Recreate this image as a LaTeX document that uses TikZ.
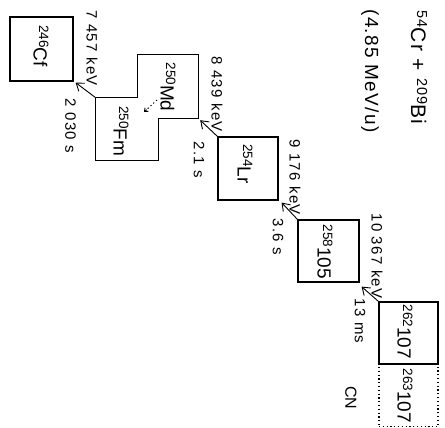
\documentclass[tikz,border=0pt]{standalone}
\usepackage{fontspec}
\setmainfont{Liberation Sans}
\usetikzlibrary{arrows.meta,calc}
\newcommand{\iso}[2]{\raisebox{5.5pt}{\fontsize{13.5}{13.5}\selectfont #1}#2}
\newcommand{\lbl}{\fontsize{15}{15}\selectfont\addfontfeatures{LetterSpace=9}}
\begin{document}
\begin{tikzpicture}[x=1pt,y=-1pt,
  box/.style={draw, line width=1.2pt, inner sep=0pt},
  nuc/.style={rotate=-90, inner sep=0pt, font=\fontsize{19}{19}\selectfont},
  val/.style={rotate=-90, inner sep=0pt, font=\lbl},
  arr/.style={line width=0.9pt, -{Straight Barb[length=7pt,width=10pt]}}]
\useasboundingbox (0,0) rectangle (445,428);
% boxes
\node[box, minimum width=63pt, minimum height=64pt] (cf) at (41.5,49) {};
\node[minimum width=60pt, minimum height=63pt, inner sep=0pt] (md) at (168,86.5) {};
\node[minimum width=62pt, minimum height=62pt, inner sep=0pt] (fm) at (127,129) {};
\node[box, minimum width=60pt, minimum height=63pt] (lr) at (248,168.5) {};
\node[box, minimum width=61pt, minimum height=62pt] (db) at (328.5,251) {};
\node[box, minimum width=59pt, minimum height=62pt] (bh) at (408.5,333) {};
\node[draw, line width=1.2pt, dash pattern=on 1.2pt off 2.6pt, inner sep=0pt,
      minimum width=59pt, minimum height=62pt] (bhcn) at (408.5,395.5) {};
% staircase outline of Md / Fm
\draw[line width=1.2pt] (md.north west) -- (md.north east) -- (md.south east)
  -- (fm.east |- md.south) -- (fm.south east) -- (fm.south west)
  -- (fm.north west) -- (md.west |- fm.north) -- cycle;
% box labels
\node[nuc] (tcf) at (41,46) {\iso{246}{Cf}};
\node[nuc] (tmd) at (168,87) {\iso{250}{Md}};
\node[nuc] (tfm) at (121,131) {\iso{250}{Fm}};
\node[nuc] (tlr) at (245,164) {\iso{254}{Lr}};
\node[nuc] (tdb) at (325,252) {\iso{258}{105}};
\node[nuc] (tbh) at (405,332) {\iso{262}{107}};
\node[nuc] (tbhcn) at (405,396) {\iso{263}{107}};
\node[rotate=-90, inner sep=0pt, font=\fontsize{16}{16}\selectfont] (cn) at (351,398) {CN};
% EC dotted arrow
\coordinate (ec1) at (157,100);
\coordinate (ec2) at (144,112);
\draw[line width=1pt, dash pattern=on 1.2pt off 2.6pt] (ec1) -- (ec2);
\draw[line width=0.9pt, -{Straight Barb[length=3pt,width=5pt]}] ($(ec1)!0.8!(ec2)$) -- (ec2);
% decay arrows
\draw[arr] (bh.north west) -- ([shift={(2pt,-4pt)}]db.south east);
\draw[arr] (db.north west) -- ([shift={(3pt,-2pt)}]lr.south east);
\draw[arr] (lr.north west) -- ([shift={(2pt,-2pt)}]md.south east);
\draw[arr] (fm.north west) -- ([shift={(2pt,-1pt)}]cf.south east);
% energies and half-lives
\node[val] (e1) at (377,256) {10 367 keV};
\node[val] (t1) at (360,321) {13 ms};
\node[val] (e2) at (295,177) {9 176 keV};
\node[val] (t2) at (278,237) {3.6 s};
\node[val] (e3) at (217,94) {8 439 keV};
\node[val] (t3) at (199,160) {2.1 s};
\node[val] (e4) at (92,48) {7 457 keV};
\node[val] (t4) at (70.5,126) {2 030 s};
% reaction
\node[rotate=-90, inner sep=0pt, font=\fontsize{21}{21}\selectfont\addfontfeatures{LetterSpace=7}] (reac) at (419,67.5)
  {\raisebox{6pt}{\fontsize{14.5}{14.5}\selectfont 54}Cr + \raisebox{6pt}{\fontsize{14.5}{14.5}\selectfont 209}Bi};
\node[rotate=-90, inner sep=0pt, font=\fontsize{19}{19}\selectfont\addfontfeatures{LetterSpace=7}] (beam) at (370,71) {(4.85 MeV/u)};
\end{tikzpicture}
\end{document}
